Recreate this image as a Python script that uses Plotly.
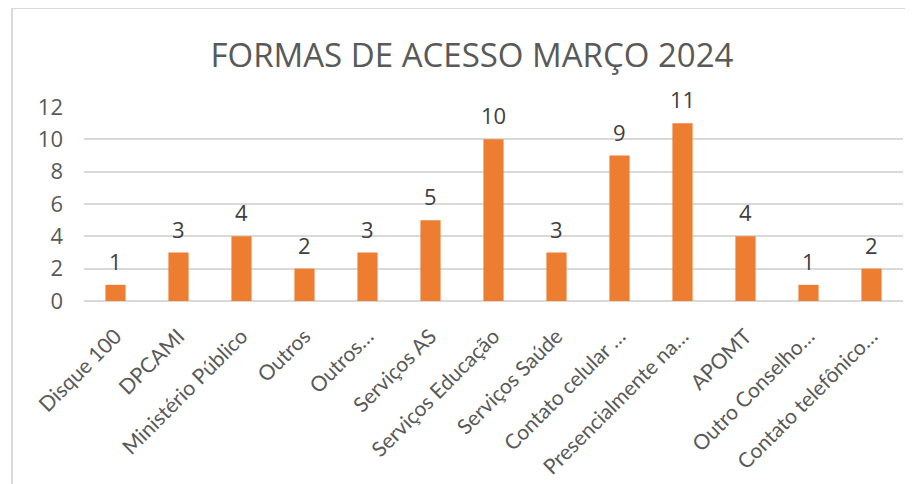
import plotly.graph_objects as go

categories = ["Disque 100", "DPCAMI", "Ministério Público", "Outros", "Outros…",
              "Serviços AS", "Serviços Educação", "Serviços Saúde", "Contato celular …",
              "Presencialmente na…", "APOMT", "Outro Conselho…", "Contato telefônico…"]
values = [1, 3, 4, 2, 3, 5, 10, 3, 9, 11, 4, 1, 2]
y_ticks = [0, 2, 4, 6, 8, 10, 12]
title_text = "FORMAS DE ACESSO MARÇO 2024"

# page body has an 8px margin, so the figure is drawn at (8, 8)
OFF = 8
W, H = 913 - OFF, 484 - OFF
L, R, T, B = 84 - OFF, 913 - 903, 107 - OFF, 484 - 301
pw, ph = W - L - R, H - T - B

def px_x(px):
    return (px - OFF - L) / pw

def px_y(py):
    return (H - B - (py - OFF)) / ph

fig = go.Figure(go.Bar(
    x=categories, y=values,
    marker=dict(color="#ED7D31", line=dict(width=0)),
    width=0.32, hoverinfo="x+y",
))

annotations = [dict(x=c, y=v, xref="x", yref="y", text=str(v), showarrow=False,
                    yanchor="middle", yshift=24,
                    font=dict(family="Open Sans", size=22, color="#404040"))
               for c, v in zip(categories, values)]

fig.update_layout(
    width=W, height=H,
    margin=dict(l=L, r=R, t=T, b=B, autoexpand=False),
    paper_bgcolor="white", plot_bgcolor="white",
    showlegend=False,
    title=dict(text=title_text, x=(472 - OFF) / W, xref="container", xanchor="center",
               y=1 - (55 - OFF) / H, yref="container", yanchor="middle",
               font=dict(family="Open Sans", size=33, color="#595959")),
    yaxis=dict(range=[0, 12], tickvals=y_ticks, showgrid=True, gridcolor="#d9d9d9",
               gridwidth=1.5, zeroline=True, zerolinecolor="#d9d9d9", zerolinewidth=1.5,
               tickfont=dict(family="Open Sans", size=22, color="#595959"),
               ticklabelstandoff=20, showline=False, fixedrange=True),
    xaxis=dict(tickangle=-45, tickfont=dict(family="Lato", size=21, color="#595959"),
               showline=False, showgrid=False, ticklabelstandoff=18),
    annotations=annotations,
    shapes=[dict(type="rect", xref="paper", yref="paper",
                 x0=px_x(12), x1=px_x(913 + 20), y0=px_y(484 + 20), y1=px_y(8),
                 line=dict(color="#d9d9d9", width=2), fillcolor="rgba(0,0,0,0)",
                 layer="below")],
)

fig.write_html("out.html")
